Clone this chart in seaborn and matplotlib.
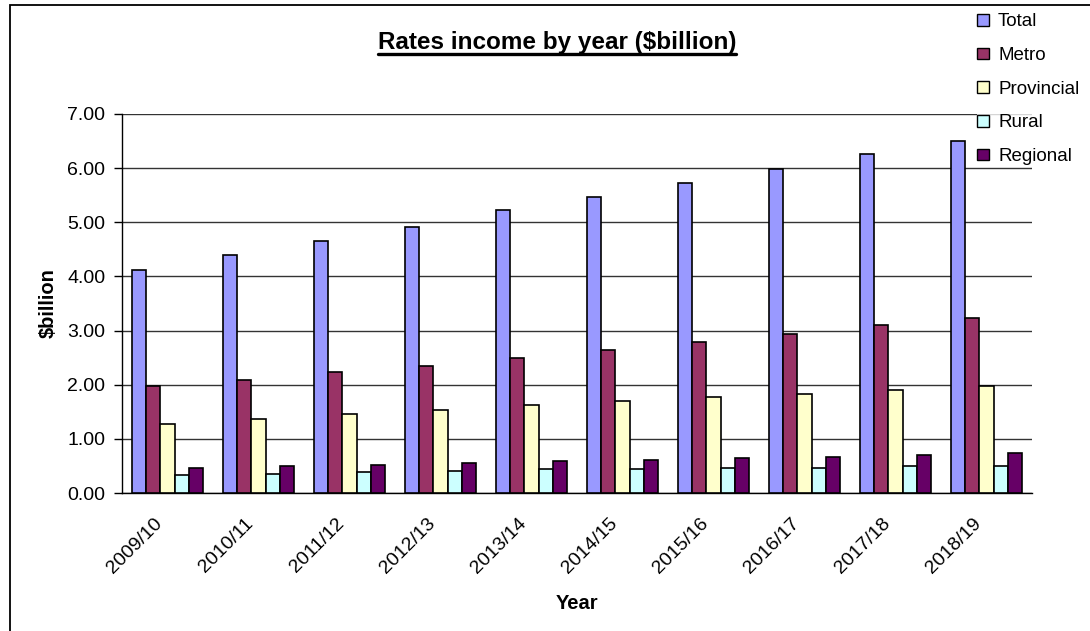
import matplotlib
matplotlib.use("Agg")
import matplotlib.pyplot as plt
import matplotlib.transforms as mtransforms
import seaborn as sns
import pandas as pd
import numpy as np
from matplotlib.lines import Line2D
from matplotlib.patches import Rectangle, Patch

years = ["2009/10", "2010/11", "2011/12", "2012/13", "2013/14",
         "2014/15", "2015/16", "2016/17", "2017/18", "2018/19"]
series = ["Total", "Metro", "Provincial", "Rural", "Regional"]
total = [4.11, 4.40, 4.66, 4.92, 5.22, 5.47, 5.73, 5.99, 6.26, 6.51]
metro = [1.98, 2.09, 2.23, 2.35, 2.49, 2.64, 2.78, 2.93, 3.10, 3.24]
provincial = [1.28, 1.36, 1.45, 1.54, 1.62, 1.69, 1.77, 1.83, 1.91, 1.97]
rural = [0.33, 0.36, 0.38, 0.41, 0.44, 0.44, 0.47, 0.47, 0.50, 0.50]
regional = [0.47, 0.50, 0.52, 0.56, 0.59, 0.61, 0.64, 0.67, 0.70, 0.73]
colors = ["#9999FF", "#993366", "#FFFFCC", "#CCFFFF", "#660066"]
yticks = [0, 1, 2, 3, 4, 5, 6, 7]

rows = []
for name, vals in zip(series, [total, metro, provincial, rural, regional]):
    for y, v in zip(years, vals):
        rows.append({"Year": y, "Series": name, "Value": v})
df = pd.DataFrame(rows)

sns.set_theme(style="white")
plt.rcParams["font.family"] = ["Liberation Sans", "DejaVu Sans"]
for k in ["text.color", "axes.labelcolor", "xtick.color", "ytick.color"]:
    plt.rcParams[k] = "black"

fig = plt.figure(figsize=(10.9, 6.31), dpi=100)
ax = fig.add_axes([122 / 1090, 1 - 493 / 631, (1032 - 122) / 1090, (493 - 114) / 631])

sns.barplot(data=df, x="Year", y="Value", hue="Series", order=years,
            hue_order=series, palette=colors, width=0.77, edgecolor="black",
            linewidth=1.2, saturation=1, ax=ax, legend=False, zorder=3)

ax.set_ylim(0, 7)
ax.set_xlim(-0.5, len(years) - 0.5)
ax.set_yticks(yticks)
ax.set_yticklabels([f"{t:.2f}" for t in yticks], fontsize=14)
ax.yaxis.grid(True, color="#333333", linewidth=1.0, zorder=0)
ax.set_axisbelow(True)

ax.set_xticks(range(len(years)))
ax.set_xticklabels(years, rotation=45, ha="right", rotation_mode="anchor", fontsize=14)
ax.tick_params(axis="x", which="major", length=0, pad=16)
offset = mtransforms.ScaledTranslation(-14 / 100, 0, fig.dpi_scale_trans)
for lab in ax.get_xticklabels():
    lab.set_transform(lab.get_transform() + offset)
ax.set_xticks(np.arange(-0.5, len(years), 1), minor=True)
ax.tick_params(axis="x", which="minor", length=6, width=1, color="black", direction="out")
ax.tick_params(axis="y", length=6, width=1, color="black", direction="out", left=True, pad=6)

for s in ["top", "right"]:
    ax.spines[s].set_visible(False)
for s in ["left", "bottom"]:
    ax.spines[s].set_color("black")
    ax.spines[s].set_linewidth(1.0)

ax.set_xlabel("Year", fontsize=14.5, fontweight="bold", labelpad=12)
ax.set_ylabel("$billion", fontsize=14.5, fontweight="bold", labelpad=7)

title = fig.text(557 / 1090, 1 - 42 / 631, "Rates income by year ($billion)",
                 ha="center", va="center", fontsize=17.5, fontweight="bold")
fig.canvas.draw()
bb = title.get_window_extent().transformed(fig.transFigure.inverted())
fig.add_artist(Line2D([bb.x0, bb.x1], [bb.y0 - 0.001, bb.y0 - 0.001],
                      transform=fig.transFigure, color="black", linewidth=2.4))

handles = [Patch(facecolor=c, edgecolor="black", linewidth=1.0) for c in colors]
leg = fig.legend(handles, series, loc="upper left",
                 bbox_to_anchor=(968 / 1090, 1 - 4 / 631), frameon=True,
                 fontsize=13.5, handlelength=0.6, handleheight=0.6,
                 handletextpad=0.5, labelspacing=0.89, borderpad=0.0)
leg.get_frame().set_facecolor("white")
leg.get_frame().set_edgecolor("white")
leg.get_frame().set_linewidth(0)

border = Rectangle((9.5 / 1090, -0.1), 2, 1.1 - 4.5 / 631, transform=fig.transFigure,
                   fill=False, edgecolor="black", linewidth=1.3, zorder=10)
fig.add_artist(border)

fig.savefig("out.png", dpi=100)
